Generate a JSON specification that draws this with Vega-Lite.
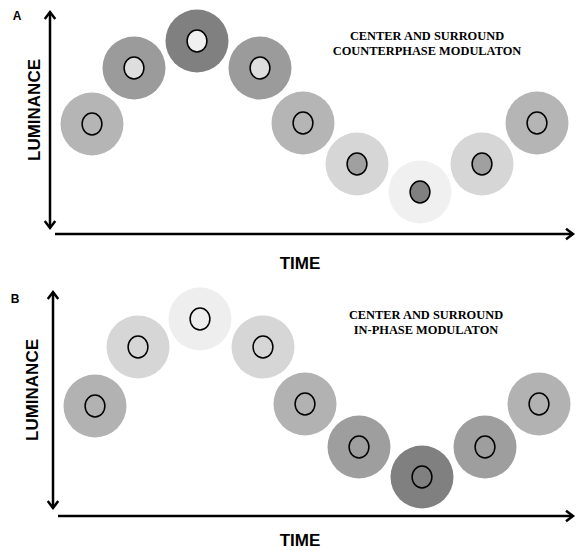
{
  "$schema": "https://vega.github.io/schema/vega-lite/v6.json",
  "padding": 0,
  "spacing": 0,
  "background": "white",
  "config": {"view": {"stroke": null}},
  "vconcat": [
    {
      "width": 577,
      "height": 275,
      "layer": [
        {
          "data": {"values": [
            {"t": 50, "t2": 50, "lum": 47, "lum2": 263},
            {"t": 55, "t2": 573, "lum": 41, "lum2": 41}
          ]},
          "mark": {"type": "rule", "strokeWidth": 2.5, "color": "black"},
          "encoding": {
            "x": {"field": "t", "type": "quantitative", "scale": {"domain": [0, 577], "nice": false, "zero": false}, "axis": null},
            "x2": {"field": "t2"},
            "y": {"field": "lum", "type": "quantitative", "scale": {"domain": [0, 275], "nice": false, "zero": false}, "axis": null},
            "y2": {"field": "lum2"}
          }
        },
        {
          "data": {"values": [{"t": 50, "lum": 263}]},
          "mark": {"type": "point", "shape": "M-1,-0.75 L0,0 L-1,0.75", "filled": false, "size": 196, "stroke": "black", "strokeWidth": 2.5, "opacity": 1, "angle": 270},
          "encoding": {
            "x": {"field": "t", "type": "quantitative"},
            "y": {"field": "lum", "type": "quantitative"}
          }
        },
        {
          "data": {"values": [{"t": 50, "lum": 47}]},
          "mark": {"type": "point", "shape": "M-1,-0.75 L0,0 L-1,0.75", "filled": false, "size": 196, "stroke": "black", "strokeWidth": 2.5, "opacity": 1, "angle": 90},
          "encoding": {
            "x": {"field": "t", "type": "quantitative"},
            "y": {"field": "lum", "type": "quantitative"}
          }
        },
        {
          "data": {"values": [{"t": 573, "lum": 41}]},
          "mark": {"type": "point", "shape": "M-1,-0.75 L0,0 L-1,0.75", "filled": false, "size": 196, "stroke": "black", "strokeWidth": 2.5, "opacity": 1, "angle": 0},
          "encoding": {
            "x": {"field": "t", "type": "quantitative"},
            "y": {"field": "lum", "type": "quantitative"}
          }
        },
        {
          "data": {"values": [
            {"t": 92, "lum": 151, "surround": 181, "center": 181},
            {"t": 134, "lum": 207, "surround": 155, "center": 222},
            {"t": 197, "lum": 234, "surround": 128, "center": 240},
            {"t": 260, "lum": 207, "surround": 155, "center": 222},
            {"t": 303, "lum": 152, "surround": 181, "center": 181},
            {"t": 357, "lum": 111, "surround": 214, "center": 160},
            {"t": 420, "lum": 83, "surround": 240, "center": 128},
            {"t": 482, "lum": 111, "surround": 214, "center": 160},
            {"t": 537, "lum": 152, "surround": 181, "center": 181}
          ]},
          "layer": [
            {
              "mark": {"type": "point", "shape": "circle", "filled": true, "size": 3969, "strokeWidth": 0, "opacity": 1},
              "encoding": {
                "x": {"field": "t", "type": "quantitative"},
                "y": {"field": "lum", "type": "quantitative"},
                "fill": {"field": "surround", "type": "quantitative", "scale": {"domain": [0, 255], "range": ["#000000", "#ffffff"], "interpolate": "rgb"}, "legend": null}
              }
            },
            {
              "mark": {"type": "point", "shape": "M0,-1 A0.9,1 0 1,1 0,1 A0.9,1 0 1,1 0,-1 Z", "filled": true, "size": 484, "stroke": "black", "strokeWidth": 1.5, "opacity": 1},
              "encoding": {
                "x": {"field": "t", "type": "quantitative"},
                "y": {"field": "lum", "type": "quantitative"},
                "fill": {"field": "center", "type": "quantitative", "scale": {"domain": [0, 255], "range": ["#000000", "#ffffff"], "interpolate": "rgb"}, "legend": null}
              }
            }
          ]
        },
        {
          "data": {"values": [{"t": 17, "lum": 259, "label": "A"}]},
          "mark": {"type": "text", "font": "Liberation Sans", "fontWeight": "bold", "fontSize": 12, "color": "black"},
          "encoding": {
            "x": {"field": "t", "type": "quantitative"},
            "y": {"field": "lum", "type": "quantitative"},
            "text": {"field": "label"}
          }
        },
        {
          "data": {"values": [{"t": 35, "lum": 165, "label": "LUMINANCE"}]},
          "mark": {"type": "text", "font": "Liberation Sans", "fontWeight": "bold", "fontSize": 17, "angle": 270, "color": "black"},
          "encoding": {
            "x": {"field": "t", "type": "quantitative"},
            "y": {"field": "lum", "type": "quantitative"},
            "text": {"field": "label"}
          }
        },
        {
          "data": {"values": [{"t": 300, "lum": 11, "label": "TIME"}]},
          "mark": {"type": "text", "font": "Liberation Sans", "fontWeight": "bold", "fontSize": 17, "color": "black"},
          "encoding": {
            "x": {"field": "t", "type": "quantitative"},
            "y": {"field": "lum", "type": "quantitative"},
            "text": {"field": "label"}
          }
        },
        {
          "data": {"values": [
            {"t": 427, "lum": 239, "label": "CENTER AND SURROUND"},
            {"t": 427, "lum": 224, "label": "COUNTERPHASE MODULATON"}
          ]},
          "mark": {"type": "text", "font": "Liberation Serif", "fontWeight": "bold", "fontSize": 12.4, "color": "black"},
          "encoding": {
            "x": {"field": "t", "type": "quantitative"},
            "y": {"field": "lum", "type": "quantitative"},
            "text": {"field": "label"}
          }
        }
      ]
    },
    {
      "width": 577,
      "height": 276,
      "layer": [
        {
          "data": {"values": [
            {"t": 53, "t2": 53, "lum": 43, "lum2": 259},
            {"t": 58, "t2": 573, "lum": 35, "lum2": 35}
          ]},
          "mark": {"type": "rule", "strokeWidth": 2.5, "color": "black"},
          "encoding": {
            "x": {"field": "t", "type": "quantitative", "scale": {"domain": [0, 577], "nice": false, "zero": false}, "axis": null},
            "x2": {"field": "t2"},
            "y": {"field": "lum", "type": "quantitative", "scale": {"domain": [0, 276], "nice": false, "zero": false}, "axis": null},
            "y2": {"field": "lum2"}
          }
        },
        {
          "data": {"values": [{"t": 53, "lum": 259}]},
          "mark": {"type": "point", "shape": "M-1,-0.75 L0,0 L-1,0.75", "filled": false, "size": 196, "stroke": "black", "strokeWidth": 2.5, "opacity": 1, "angle": 270},
          "encoding": {
            "x": {"field": "t", "type": "quantitative"},
            "y": {"field": "lum", "type": "quantitative"}
          }
        },
        {
          "data": {"values": [{"t": 53, "lum": 43}]},
          "mark": {"type": "point", "shape": "M-1,-0.75 L0,0 L-1,0.75", "filled": false, "size": 196, "stroke": "black", "strokeWidth": 2.5, "opacity": 1, "angle": 90},
          "encoding": {
            "x": {"field": "t", "type": "quantitative"},
            "y": {"field": "lum", "type": "quantitative"}
          }
        },
        {
          "data": {"values": [{"t": 573, "lum": 35}]},
          "mark": {"type": "point", "shape": "M-1,-0.75 L0,0 L-1,0.75", "filled": false, "size": 196, "stroke": "black", "strokeWidth": 2.5, "opacity": 1, "angle": 0},
          "encoding": {
            "x": {"field": "t", "type": "quantitative"},
            "y": {"field": "lum", "type": "quantitative"}
          }
        },
        {
          "data": {"values": [
            {"t": 95, "lum": 145, "surround": 178, "center": 178},
            {"t": 138, "lum": 204, "surround": 214, "center": 214},
            {"t": 200, "lum": 232, "surround": 238, "center": 238},
            {"t": 263, "lum": 204, "surround": 214, "center": 214},
            {"t": 305, "lum": 147, "surround": 178, "center": 178},
            {"t": 359, "lum": 104, "surround": 158, "center": 158},
            {"t": 422, "lum": 74, "surround": 128, "center": 128},
            {"t": 485, "lum": 104, "surround": 158, "center": 158},
            {"t": 539, "lum": 147, "surround": 178, "center": 178}
          ]},
          "layer": [
            {
              "mark": {"type": "point", "shape": "circle", "filled": true, "size": 3969, "strokeWidth": 0, "opacity": 1},
              "encoding": {
                "x": {"field": "t", "type": "quantitative"},
                "y": {"field": "lum", "type": "quantitative"},
                "fill": {"field": "surround", "type": "quantitative", "scale": {"domain": [0, 255], "range": ["#000000", "#ffffff"], "interpolate": "rgb"}, "legend": null}
              }
            },
            {
              "mark": {"type": "point", "shape": "M0,-1 A0.9,1 0 1,1 0,1 A0.9,1 0 1,1 0,-1 Z", "filled": true, "size": 484, "stroke": "black", "strokeWidth": 1.5, "opacity": 1},
              "encoding": {
                "x": {"field": "t", "type": "quantitative"},
                "y": {"field": "lum", "type": "quantitative"},
                "fill": {"field": "center", "type": "quantitative", "scale": {"domain": [0, 255], "range": ["#000000", "#ffffff"], "interpolate": "rgb"}, "legend": null}
              }
            }
          ]
        },
        {
          "data": {"values": [{"t": 15, "lum": 252, "label": "B"}]},
          "mark": {"type": "text", "font": "Liberation Sans", "fontWeight": "bold", "fontSize": 12, "color": "black"},
          "encoding": {
            "x": {"field": "t", "type": "quantitative"},
            "y": {"field": "lum", "type": "quantitative"},
            "text": {"field": "label"}
          }
        },
        {
          "data": {"values": [{"t": 33, "lum": 161, "label": "LUMINANCE"}]},
          "mark": {"type": "text", "font": "Liberation Sans", "fontWeight": "bold", "fontSize": 17, "angle": 270, "color": "black"},
          "encoding": {
            "x": {"field": "t", "type": "quantitative"},
            "y": {"field": "lum", "type": "quantitative"},
            "text": {"field": "label"}
          }
        },
        {
          "data": {"values": [{"t": 300, "lum": 10, "label": "TIME"}]},
          "mark": {"type": "text", "font": "Liberation Sans", "fontWeight": "bold", "fontSize": 17, "color": "black"},
          "encoding": {
            "x": {"field": "t", "type": "quantitative"},
            "y": {"field": "lum", "type": "quantitative"},
            "text": {"field": "label"}
          }
        },
        {
          "data": {"values": [
            {"t": 426, "lum": 236, "label": "CENTER AND SURROUND"},
            {"t": 426, "lum": 221, "label": "IN-PHASE MODULATON"}
          ]},
          "mark": {"type": "text", "font": "Liberation Serif", "fontWeight": "bold", "fontSize": 12.4, "color": "black"},
          "encoding": {
            "x": {"field": "t", "type": "quantitative"},
            "y": {"field": "lum", "type": "quantitative"},
            "text": {"field": "label"}
          }
        }
      ]
    }
  ]
}
